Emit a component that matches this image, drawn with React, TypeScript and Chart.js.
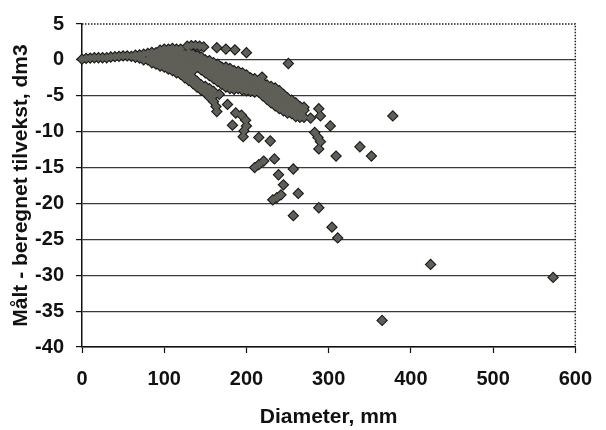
import { useEffect, useRef } from "react";
import { Chart, registerables } from "chart.js";

Chart.register(...registerables);

// Axis ranges
const xMin = 0;
const xMax = 600;
const xStep = 100;
const yMin = -40;
const yMax = 5;
const yStep = 5;

const xTitle = "Diameter, mm";
const yTitle = "Målt - beregnet tilvekst, dm3";

// Dense main band of observations (diameter mm, difference dm3)
const mainBand: [number, number][] = [
  [0, 0.1], [5, 0.2], [10, 0.25], [15, 0.3], [20, 0.3], [25, 0.3], [30, 0.3],
  [35, 0.4], [40, 0.45], [45, 0.5], [50, 0.55], [55, 0.55], [60, 0.5],
  [65, 0.35], [65, 0.65],
  [70, 0.25], [70, 0.7],
  [75, 0.0], [75, 0.8],
  [80, 0.0], [80, 0.9],
  [85, -0.4], [85, 0.5], [85, 1.05],
  [90, -0.6], [90, 0.0], [90, 1.0],
  [95, -0.85], [95, -0.5], [95, 0.5], [95, 1.35],
  [100, -1.0], [100, 0.0], [100, 1.0], [100, 1.5],
  [105, -1.3], [105, -0.5], [105, 0.5], [105, 1.5],
  [110, -1.5], [110, -1.0], [110, 0.0], [110, 1.0], [110, 1.6],
  [115, -1.8], [115, -1.5], [115, -0.5], [115, 0.5], [115, 1.5],
  [120, -2.0], [120, -1.0], [120, 0.0], [120, 1.0], [120, 1.5],
  [125, -2.5], [125, -1.5], [125, -0.5], [125, 0.5], [125, 0.8],
  [130, -2.9], [130, -2.0], [130, -1.0], [130, 0.0], [130, 1.0],
  [135, -3.3], [135, -2.5], [135, -1.5], [135, -0.5], [135, 0.5], [135, 0.8],
  [140, -1.0], [140, 0.0], [140, 0.6],
  [145, -1.4], [145, -0.5], [145, 0.4],
  [150, -1.8], [150, -1.0], [150, 0.0],
  [155, -2.2], [155, -1.5], [155, -0.5], [155, -0.1],
  [160, -2.6], [160, -2.0], [160, -1.0], [160, -0.4],
  [165, -3.0], [165, -2.5], [165, -1.5], [165, -0.6],
  [170, -3.4], [170, -3.0], [170, -2.0], [170, -1.0],
  [175, -3.8], [175, -3.5], [175, -2.5], [175, -1.5], [175, -1.0],
  [180, -4.0], [180, -3.0], [180, -2.0], [180, -1.2],
  [185, -4.1], [185, -3.5], [185, -2.5], [185, -1.5],
  [190, -4.0], [190, -3.0], [190, -2.0], [190, -1.6],
  [195, -4.2], [195, -3.5], [195, -2.5], [195, -1.8],
  [200, -4.3], [200, -4.0], [200, -3.0], [200, -2.1],
  [205, -4.4], [205, -3.5], [205, -2.5],
  [210, -4.5], [210, -4.0], [210, -3.0], [210, -2.6],
  [215, -4.5], [215, -3.5], [215, -2.9],
  [220, -5.0], [220, -4.0], [220, -3.2],
  [225, -5.5], [225, -4.5], [225, -3.5],
  [230, -6.0], [230, -5.0], [230, -4.0], [230, -3.7],
  [235, -6.4], [235, -5.5], [235, -4.5], [235, -3.9],
  [240, -6.8], [240, -6.0], [240, -5.0], [240, -4.3],
  [245, -7.1], [245, -6.5], [245, -5.5], [245, -4.8],
  [250, -7.4], [250, -7.0], [250, -6.0], [250, -5.3],
  [255, -7.5], [255, -6.5], [255, -5.6],
  [260, -7.9], [260, -7.0], [260, -6.0],
  [265, -8.0], [265, -7.5], [265, -6.5],
  [270, -8.0], [270, -7.0], [270, -6.6],
];

// Ridge of points at the top of the band
const topRidge: [number, number][] = [
  [128, 1.9], [133, 2.0], [138, 2.0], [143, 1.9], [148, 1.8],
  [164, 1.7], [175, 1.5], [186, 1.4], [200, 1.0],
];

// Lower branch of the band
const lowerLobe: [number, number][] = [
  [140, -3.8], [140, -3.0],
  [145, -4.2], [145, -3.5],
  [150, -4.6], [150, -4.0], [150, -3.7],
  [155, -5.2], [155, -4.5], [155, -4.0],
  [160, -5.8], [160, -5.0], [160, -4.4],
  [163, -6.5], [164, -7.2], [167, -4.8],
];

// Scattered individual observations
const scattered: [number, number][] = [
  [251, -0.5], [219, -2.4],
  [177, -6.2], [187, -7.4], [194, -7.7], [199, -8.4], [200, -9.2], [197, -9.9], [196, -10.7],
  [183, -9.1], [215, -10.8], [229, -11.3], [234, -13.8],
  [210, -15.0], [215, -14.6], [221, -14.1],
  [257, -15.2], [239, -16.0], [245, -17.4], [263, -18.6],
  [232, -19.5], [237, -19.2], [242, -18.8],
  [288, -20.6], [257, -21.7], [304, -23.3], [311, -24.8],
  [278, -8.1], [288, -6.8], [290, -7.8], [302, -9.2],
  [283, -10.1], [287, -10.8], [290, -11.4],
  [288, -12.4], [309, -13.4], [338, -12.1], [352, -13.4], [378, -7.8],
  [424, -28.5], [573, -30.3], [365, -36.3],
];

const FONT = "Arial, 'Liberation Sans', Helvetica, sans-serif";
const TEXT = "#111111";

const framePlugin = {
  id: "dottedFrame",
  afterDraw(chart: any) {
    const { ctx, chartArea } = chart;
    const { left, top, right, bottom } = chartArea;
    ctx.save();
    ctx.strokeStyle = "#222222";
    ctx.lineWidth = 1.5;
    ctx.setLineDash([1.5, 1.5]);
    ctx.beginPath();
    ctx.moveTo(left, top);
    ctx.lineTo(right, top);
    ctx.lineTo(right, bottom);
    ctx.stroke();
    ctx.restore();
  },
};

export default function App() {
  const ref = useRef<HTMLCanvasElement>(null);

  useEffect(() => {
    document.body.style.margin = "0";
    const points = [...mainBand, ...topRidge, ...lowerLobe, ...scattered].map(([x, y]) => ({ x, y }));
    const chart = new Chart(ref.current as HTMLCanvasElement, {
      type: "scatter",
      data: {
        datasets: [
          {
            data: points,
            pointStyle: "rectRot",
            pointRadius: 4.4,
            pointBackgroundColor: "#5f5f58",
            backgroundColor: "#5f5f58",
            pointBorderWidth: 0,
            borderWidth: 0,
            order: 0,
            clip: false,
          } as any,
          {
            data: points,
            pointStyle: "rectRot",
            pointRadius: 5.9,
            pointBackgroundColor: "#151515",
            backgroundColor: "#151515",
            pointBorderWidth: 0,
            borderWidth: 0,
            order: 1,
            clip: false,
          } as any,
        ],
      },
      options: {
        responsive: false,
        animation: false,
        devicePixelRatio: 1,
        events: [],
        layout: { padding: { top: 22, right: 19, bottom: 0, left: 0 } },
        plugins: { legend: { display: false }, tooltip: { enabled: false } },
        scales: {
          x: {
            type: "linear",
            min: xMin,
            max: xMax,
            ticks: {
              stepSize: xStep,
              font: { family: FONT, size: 20, weight: "bold" },
              color: TEXT,
              padding: 14,
              maxRotation: 0,
            },
            grid: {
              drawOnChartArea: false,
              drawTicks: true,
              tickLength: 6,
              tickColor: "#111111",
              tickWidth: 1.2,
            },
            border: { display: true, color: "#111111", width: 1.5 },
            title: {
              display: true,
              text: xTitle,
              font: { family: FONT, size: 21, weight: "bold" },
              color: TEXT,
              padding: { top: 0, bottom: 0 },
            },
            afterFit(scale: any) {
              scale.height = 83;
            },
          },
          y: {
            min: yMin,
            max: yMax,
            ticks: {
              stepSize: yStep,
              font: { family: FONT, size: 20, weight: "bold" },
              color: TEXT,
              padding: 12,
            },
            grid: {
              color: (c: any) => (c.tick && c.tick.value === yMax ? "rgba(0,0,0,0)" : "#3a3a3a"),
              lineWidth: 1.2,
              drawTicks: true,
              tickLength: 6,
              tickColor: "#111111",
              tickWidth: 1.2,
            },
            border: { display: true, color: "#111111", width: 1.5 },
            title: {
              display: true,
              text: yTitle,
              font: { family: FONT, size: 21, weight: "bold" },
              color: TEXT,
              padding: { top: 9, bottom: 0 },
            },
            afterFit(scale: any) {
              scale.width = 82;
            },
          },
        },
      },
      plugins: [framePlugin],
    });
    return () => chart.destroy();
  }, []);

  return (
    <div style={{ width: 606, height: 430 }}>
      <canvas ref={ref} width={606} height={430} />
    </div>
  );
}
